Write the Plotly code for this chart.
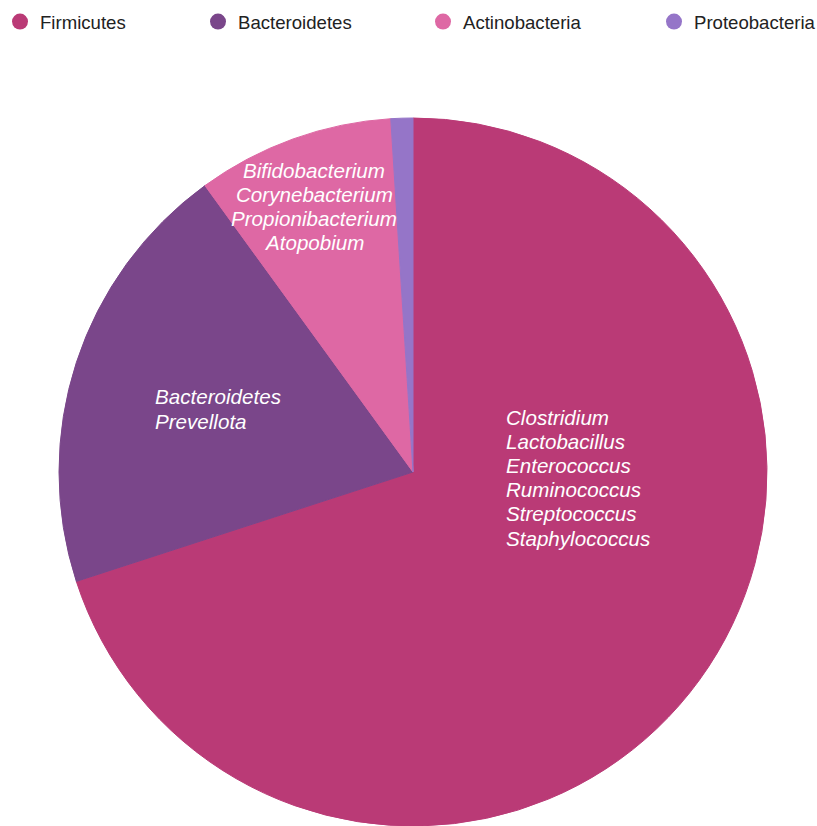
import plotly.graph_objects as go

phyla = ["Firmicutes", "Bacteroidetes", "Actinobacteria", "Proteobacteria"]
shares = [70, 20, 9, 1]
colors = ["#BA3A76", "#7A468A", "#DE68A4", "#9575C8"]

firmicutes_genera = ["Clostridium", "Lactobacillus", "Enterococcus",
                     "Ruminococcus", "Streptococcus", "Staphylococcus"]
bacteroidetes_genera = ["Bacteroidetes", "Prevellota"]
actino_genera = ["Bifidobacterium", "Corynebacterium", "Propionibacterium", "Atopobium"]

W, H = 817, 826
TOP = 118
PH = H - TOP
FAMILY = "Liberation Sans, Arial, Helvetica, sans-serif"


def py(pix):
    return (H - pix) / PH


fig = go.Figure()
fig.add_trace(go.Pie(
    labels=phyla, values=shares, sort=False, direction="clockwise", rotation=0,
    marker=dict(colors=colors, line=dict(width=1, color=colors)),
    textinfo="none", hoverinfo="label+percent", showlegend=False,
    domain=dict(x=[(413 - 354) / W, (413 + 354) / W], y=[0, 1]),
))
legend_ids = ["legend", "legend2", "legend3", "legend4"]
for name, c, lg in zip(phyla, colors, legend_ids):
    fig.add_trace(go.Scatter(x=[None], y=[None], mode="markers", name=name, legend=lg,
                             marker=dict(color=c, size=16, symbol="circle")))

annots = []
font = dict(family=FAMILY, size=20.6, color="white")
for i, g in enumerate(firmicutes_genera):
    annots.append(dict(x=504 / W, y=py(417 + 24.2 * i), xref="paper", yref="paper",
                       text=f"<i>{g}</i>", showarrow=False, xanchor="left", yanchor="middle", font=font))
for i, g in enumerate(bacteroidetes_genera):
    annots.append(dict(x=153 / W, y=py(397 + 24.2 * i), xref="paper", yref="paper",
                       text=f"<i>{g}</i>", showarrow=False, xanchor="left", yanchor="middle", font=font))
for i, g in enumerate(actino_genera):
    annots.append(dict(x=314 / W, y=py(170 + 24.2 * i), xref="paper", yref="paper",
                       text=f"<i>{g}</i>", showarrow=False, xanchor="center", yanchor="middle", font=font))

marker_px = [19, 217, 442, 673]
legends = {}
for lg, mx in zip(legend_ids, marker_px):
    legends[lg] = dict(orientation="h", x=max(0, mx - 19) / W, xanchor="left", xref="container",
                       y=1 - 22 / H, yanchor="middle", yref="container",
                       bgcolor="rgba(0,0,0,0)",
                       font=dict(family=FAMILY, size=18.6, color="#222"))

fig.update_layout(
    width=W, height=H,
    margin=dict(l=0, r=0, t=TOP, b=0),
    paper_bgcolor="white", plot_bgcolor="white",
    xaxis=dict(visible=False), yaxis=dict(visible=False),
    annotations=annots,
    showlegend=True,
    **legends,
)
fig.write_html("out.html", config={"displayModeBar": False},
               post_script="document.body.style.margin='0';document.body.style.overflow='hidden';")
